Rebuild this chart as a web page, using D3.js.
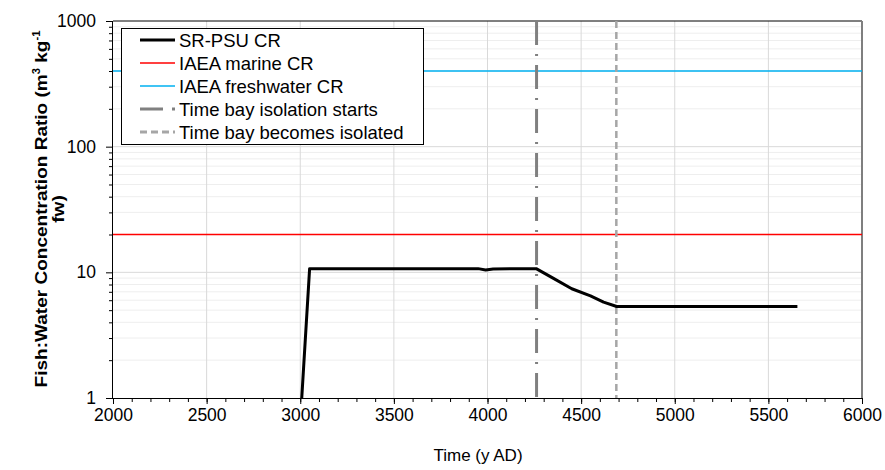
<!DOCTYPE html>
<html>
<head>
<meta charset="utf-8">
<script src="https://cdn.jsdelivr.net/npm/d3@7"></script>
<style>
  html, body { margin: 0; padding: 0; background: #fff; }
  svg { display: block; font-family: "Liberation Sans", Arial, sans-serif; }
</style>
</head>
<body>
<svg id="chart" width="885" height="470"></svg>
<script>
// SR-PSU fish:water concentration ratio over time (year AD, ratio)
const srpsuYears  = [3008, 3050, 3950, 3990, 4030, 4260, 4350, 4450, 4550, 4620, 4690, 5655];
const srpsuValues = [1.0, 10.7, 10.7, 10.45, 10.65, 10.7, 9.0, 7.4, 6.5, 5.8, 5.35, 5.35];

// Reference IAEA concentration ratios
const iaeaMarineCR = 20;
const iaeaFreshwaterCR = 400;

// Bay isolation timing (year AD)
const isolationStarts = 4262;
const isolationComplete = 4688;

const xTicks = [2000, 2500, 3000, 3500, 4000, 4500, 5000, 5500, 6000];
const yTicks = [1, 10, 100, 1000];

const legendLabels = [
  "SR-PSU CR",
  "IAEA marine CR",
  "IAEA freshwater CR",
  "Time bay isolation starts",
  "Time bay becomes isolated"
];

const svg = d3.select("#chart");
const pL = 113, pR = 862, pT = 21, pB = 398;
const FONT = "Liberation Sans, Arial, sans-serif";

const x = d3.scaleLinear().domain([2000, 6000]).range([pL, pR]);
const y = d3.scaleLog().domain([1, 1000]).range([pB, pT]);

// Gridlines: minor horizontal lines at 2..9 of each decade
const minorY = [];
for (let d = 1; d < 1000; d *= 10) for (let k = 2; k <= 9; k++) minorY.push(d * k);

const grid = svg.append("g");
grid.selectAll("line.minor").data(minorY).join("line")
  .attr("x1", pL).attr("x2", pR)
  .attr("y1", d => y(d)).attr("y2", d => y(d))
  .attr("stroke", "#eeeeee").attr("stroke-width", 1);
grid.selectAll("line.majorY").data(yTicks.slice(1, 3)).join("line")
  .attr("x1", pL).attr("x2", pR)
  .attr("y1", d => y(d)).attr("y2", d => y(d))
  .attr("stroke", "#d9d9d9").attr("stroke-width", 1);
grid.selectAll("line.majorX").data(xTicks.slice(1, -1)).join("line")
  .attr("x1", d => x(d)).attr("x2", d => x(d))
  .attr("y1", pT).attr("y2", pB)
  .attr("stroke", "#d9d9d9").attr("stroke-width", 1);

// Plot area frame: top and right
svg.append("line").attr("x1", pL).attr("x2", pR).attr("y1", pT).attr("y2", pT)
  .attr("stroke", "#000").attr("stroke-width", 1);
svg.append("line").attr("x1", pR).attr("x2", pR).attr("y1", pT).attr("y2", pB)
  .attr("stroke", "#7f7f7f").attr("stroke-width", 2);

// Clip to the plot area
svg.append("clipPath").attr("id", "plotClip").append("rect")
  .attr("x", pL).attr("y", pT).attr("width", pR - pL).attr("height", pB - pT);
const plot = svg.append("g").attr("clip-path", "url(#plotClip)");

// IAEA reference lines
plot.append("line")
  .attr("x1", pL).attr("x2", pR)
  .attr("y1", y(iaeaFreshwaterCR)).attr("y2", y(iaeaFreshwaterCR))
  .attr("stroke", "#00b0f0").attr("stroke-width", 1.5);
plot.append("line")
  .attr("x1", pL).attr("x2", pR)
  .attr("y1", y(iaeaMarineCR)).attr("y2", y(iaeaMarineCR))
  .attr("stroke", "#ff0000").attr("stroke-width", 1.5);

// Isolation markers
plot.append("line")
  .attr("x1", x(isolationStarts)).attr("x2", x(isolationStarts))
  .attr("y1", pT).attr("y2", pB)
  .attr("stroke", "#808080").attr("stroke-width", 3)
  .attr("stroke-dasharray", "24,9,2,9");
plot.append("line")
  .attr("x1", x(isolationComplete)).attr("x2", x(isolationComplete))
  .attr("y1", pT).attr("y2", pB)
  .attr("stroke", "#a6a6a6").attr("stroke-width", 2.5)
  .attr("stroke-dasharray", "7,4");

// SR-PSU curve
const srpsu = srpsuYears.map((yr, i) => [yr, srpsuValues[i]]);
plot.append("path")
  .datum(srpsu)
  .attr("fill", "none")
  .attr("stroke", "#000")
  .attr("stroke-width", 3)
  .attr("stroke-linejoin", "round")
  .attr("d", d3.line().x(d => x(d[0])).y(d => y(d[1])));

// X axis
const xAxisMinor = d3.axisBottom(x).tickValues(d3.range(2000, 6001, 100)).tickSize(4).tickFormat("");
svg.append("g").attr("transform", `translate(0,${pB})`).call(xAxisMinor)
  .call(g => g.select(".domain").remove())
  .selectAll("line").attr("stroke", "#000");
const xAxis = d3.axisBottom(x).tickValues(xTicks).tickSize(6).tickPadding(5).tickFormat(d3.format("d"));
svg.append("g").attr("transform", `translate(0,${pB})`).call(xAxis)
  .call(g => g.select(".domain").attr("stroke", "#000").attr("d", `M${pL},0.5H${pR}`))
  .call(g => g.selectAll("line").attr("stroke", "#000"))
  .call(g => g.selectAll("text").attr("font-size", 17.5).attr("fill", "#000")
    .attr("font-family", FONT));

// Y axis
const yAxisMinor = d3.axisLeft(y).tickValues(minorY).tickSize(4).tickFormat("");
svg.append("g").attr("transform", `translate(${pL},0)`).call(yAxisMinor)
  .call(g => g.select(".domain").remove())
  .selectAll("line").attr("stroke", "#000");
const yAxis = d3.axisLeft(y).tickValues(yTicks).tickSize(7).tickPadding(10).tickFormat(d3.format("d"));
svg.append("g").attr("transform", `translate(${pL},0)`).call(yAxis)
  .call(g => g.select(".domain").attr("stroke", "#000").attr("d", `M-0.5,${pT}V${pB}`))
  .call(g => g.selectAll("line").attr("stroke", "#000"))
  .call(g => g.selectAll("text").attr("font-size", 17.5).attr("fill", "#000")
    .attr("font-family", FONT));

// Axis titles
svg.append("text")
  .attr("x", 478).attr("y", 461)
  .attr("text-anchor", "middle").attr("font-size", 17).attr("fill", "#000")
  .text("Time (y AD)");

const yTitle = svg.append("text")
  .attr("transform", "translate(47,209) rotate(-90) scale(1.12,1)")
  .attr("text-anchor", "middle").attr("font-size", 17).attr("font-weight", "bold").attr("fill", "#000");
const l1 = yTitle.append("tspan").attr("x", 0).attr("y", 0);
l1.append("tspan").text("Fish:Water Concentration Ratio (m");
l1.append("tspan").attr("font-size", 10).attr("dy", -7).text("3");
l1.append("tspan").attr("dy", 7).text(" kg");
l1.append("tspan").attr("font-size", 10).attr("dy", -7).text("-1");
yTitle.append("tspan").attr("x", 0).attr("y", 17).text("fw)");

// Legend
const lg = svg.append("g");
lg.append("rect").attr("x", 121.5).attr("y", 28.5).attr("width", 302).attr("height", 116)
  .attr("fill", "#fff").attr("stroke", "#000").attr("stroke-width", 1);
const legendStyles = [
  { color: "#000", width: 3, dash: null },
  { color: "#ff0000", width: 1.5, dash: null },
  { color: "#00b0f0", width: 1.5, dash: null },
  { color: "#808080", width: 3, dash: "23,9,3,9" },
  { color: "#a6a6a6", width: 3, dash: "7,4" }
];
const rowY = i => 40 + i * 23;
lg.selectAll("line.key").data(legendLabels).join("line")
  .attr("x1", 140).attr("x2", 175)
  .attr("y1", (d, i) => rowY(i)).attr("y2", (d, i) => rowY(i))
  .attr("stroke", (d, i) => legendStyles[i].color)
  .attr("stroke-width", (d, i) => legendStyles[i].width)
  .attr("stroke-dasharray", (d, i) => legendStyles[i].dash);
lg.selectAll("text.key").data(legendLabels).join("text")
  .attr("x", 179).attr("y", (d, i) => rowY(i)).attr("dy", "0.36em")
  .attr("font-size", 18.5).attr("fill", "#000")
  .text(d => d);
</script>
</body>
</html>
